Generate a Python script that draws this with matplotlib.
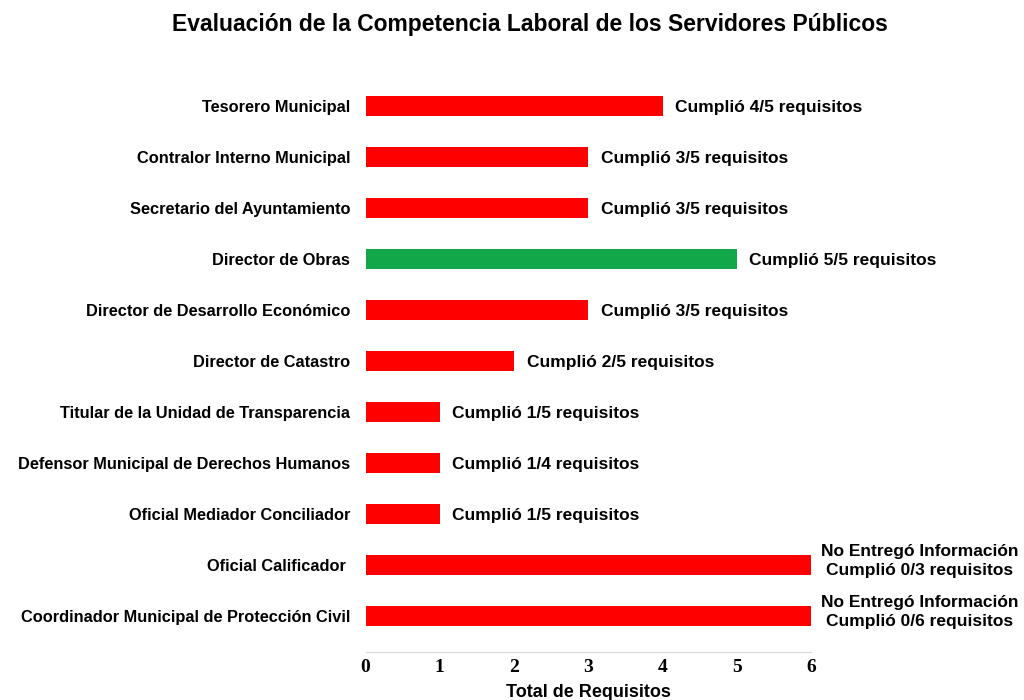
import matplotlib
matplotlib.use('Agg')
from matplotlib import pyplot as plt

puestos = ['Tesorero Municipal', 'Contralor Interno Municipal', 'Secretario del Ayuntamiento',
           'Director de Obras', 'Director de Desarrollo Económico', 'Director de Catastro',
           'Titular de la Unidad de Transparencia', 'Defensor Municipal de Derechos Humanos',
           'Oficial Mediador Conciliador', 'Oficial Calificador ',
           'Coordinador Municipal de Protección Civil']
requisitos = [4, 3, 3, 5, 3, 2, 1, 1, 1, 6, 6]
etiquetas = ['Cumplió 4/5 requisitos', 'Cumplió 3/5 requisitos', 'Cumplió 3/5 requisitos',
             'Cumplió 5/5 requisitos', 'Cumplió 3/5 requisitos', 'Cumplió 2/5 requisitos',
             'Cumplió 1/5 requisitos', 'Cumplió 1/4 requisitos', 'Cumplió 1/5 requisitos',
             'No Entregó Información\nCumplió 0/3 requisitos',
             'No Entregó Información\nCumplió 0/6 requisitos']
colores = ['#FF0000', '#FF0000', '#FF0000', '#12A84A', '#FF0000', '#FF0000',
           '#FF0000', '#FF0000', '#FF0000', '#FF0000', '#FF0000']

plt.rcParams['font.family'] = ['Liberation Sans', 'DejaVu Sans']

fig = plt.figure(figsize=(10.24, 7), dpi=100)
ax = fig.add_axes([0.357, 0.069, 0.435, 0.831])

pos = list(range(len(puestos)))
ax.barh(pos, requisitos, height=0.4, color=colores)
ax.set_ylim(len(puestos) - 0.3, -0.7)
ax.set_xlim(0, 6)

for p, v, txt in zip(pos, requisitos, etiquetas):
    if '\n' in txt:
        ax.annotate(txt, (v, p), xytext=(78, 3), textcoords='offset points',
                    ha='center', va='center', fontsize=12.5, fontweight='bold', linespacing=1.3)
    else:
        ax.annotate(txt, (v, p), xytext=(9, -1), textcoords='offset points',
                    ha='left', va='center', fontsize=12.5, fontweight='bold')

ax.set_yticks(pos)
ax.set_yticklabels(puestos, fontsize=11.8, fontweight='bold')
ax.set_xticks(range(7))
ax.set_xticklabels([str(i) for i in range(7)], fontsize=14, fontweight='bold',
                   family='Liberation Serif')
ax.tick_params(axis='y', length=0, pad=11)
ax.tick_params(axis='x', length=0, pad=5)

for s in ['top', 'right', 'left']:
    ax.spines[s].set_visible(False)
ax.spines['bottom'].set_color('#d9d9d9')
ax.spines['bottom'].set_linewidth(0.8)

ax.set_xlabel('Total de Requisitos', fontsize=13, fontweight='bold', labelpad=6)
fig.suptitle('Evaluación de la Competencia Laboral de los Servidores Públicos',
             fontsize=16.5, fontweight='bold', x=0.518, y=0.982)

fig.savefig('out.png', dpi=100)
